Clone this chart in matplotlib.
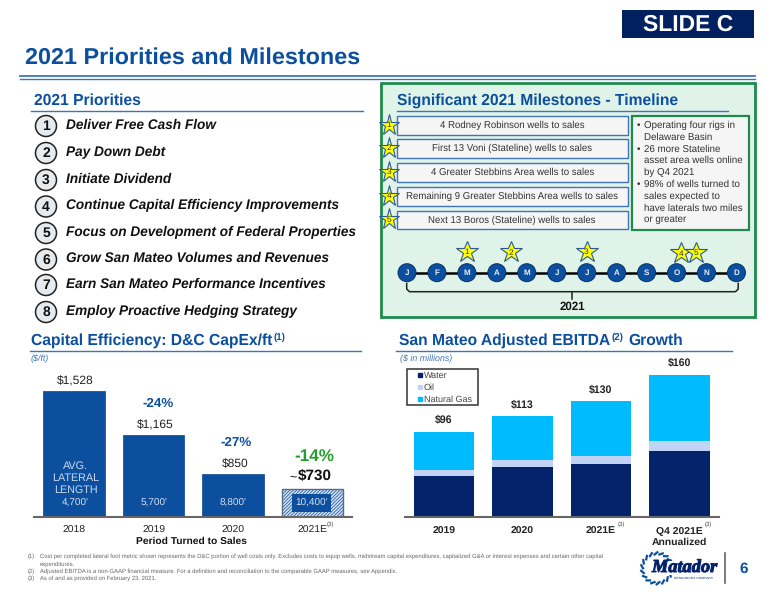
import numpy as np
import matplotlib
matplotlib.use("Agg")
import matplotlib.pyplot as plt
import matplotlib.patheffects as pe
from matplotlib.patches import Rectangle, Circle, Patch
from matplotlib.legend_handler import HandlerPatch
from matplotlib.lines import Line2D

plt.rcParams['font.family'] = ['Liberation Sans', 'DejaVu Sans']
plt.rcParams['text.hinting'] = 'no_hinting'

# ---- data ----
capex_years = ['2018', '2019', '2020', '2021E']
capex_values = [1528, 1165, 850, 730]
capex_labels = ['$1,528', '$1,165', '$850']
capex_lengths = ["4,700'", "5,700'", "8,800'", "10,400'"]
capex_changes = ['-24%', '-27%', '-14%']

ebitda_years = ['2019', '2020', '2021E', 'Q4 2021E\nAnnualized']
ebitda_water = [46.5, 56, 60, 74]
ebitda_oil = [6.5, 8, 9, 11.5]
ebitda_gas = [43, 49, 61, 74.5]
ebitda_labels = ['$96', '$113', '$130', '$160']

priorities = ['Deliver Free Cash Flow', 'Pay Down Debt', 'Initiate Dividend',
              'Continue Capital Efficiency Improvements',
              'Focus on Development of Federal Properties',
              'Grow San Mateo Volumes and Revenues',
              'Earn San Mateo Performance Incentives',
              'Employ Proactive Hedging Strategy']
priority_y = [126, 153, 180, 206.5, 233, 259.5, 285, 312]
milestones = ['4 Rodney Robinson wells to sales',
              'First 13 Voni (Stateline) wells to sales',
              '4 Greater Stebbins Area wells to sales',
              'Remaining 9 Greater Stebbins Area wells to sales',
              'Next 13 Boros (Stateline) wells to sales']
milestone_top = [115.7, 139, 163, 186.7, 210.5]
months = list('JFMAMJJASOND')
timeline_stars = [(467, 251.7), (511, 252), (586.5, 251.7), (681, 253), (696, 252.5)]
side_notes = [('•', 'Operating four rigs in'), ('', 'Delaware Basin'),
              ('•', '26 more Stateline'), ('', 'asset area wells online'), ('', 'by Q4 2021'),
              ('•', '98% of wells turned to'), ('', 'sales expected to'),
              ('', 'have laterals two miles'), ('', 'or greater')]
footnotes = [('(1)', 'Cost per completed lateral foot metric shown represents the D&C portion of well costs only. Excludes costs to equip wells, midstream capital expenditures, capitalized G&A or interest expenses and certain other capital'),
             ('', 'expenditures.'),
             ('(2)', 'Adjusted EBITDA is a non-GAAP financial measure. For a definition and reconciliation to the comparable GAAP measures, see Appendix.'),
             ('(3)', 'As of and as provided on February 23, 2021.')]

BLUE = '#0b4f9e'
RULE = '#3f75b5'
NAVY = '#04236a'
GREEN = '#1f8a4c'
OIL = '#c2d4f5'
GAS = '#00bcff'
W, H = 776, 600

fig = plt.figure(figsize=(W / 100, H / 100), dpi=100, facecolor='white')


def px_axes(x0, y0, x1, y1, **kw):
    return fig.add_axes([x0 / W, 1 - y1 / H, (x1 - x0) / W, (y1 - y0) / H], **kw)


# ---- capex chart ----
ax1 = px_axes(34.3, 375, 352.3, 517, zorder=1)
x = np.arange(4)
ax1.bar(x[:3], capex_values[:3], width=0.775, color=BLUE, edgecolor='#0a468c', linewidth=0.5)
plt.rcParams['hatch.linewidth'] = 0.7
ax1.bar(x[3], capex_values[3], width=0.775, facecolor='#dfe8f4', edgecolor='#2f6db4', hatch='//////////', linewidth=0)
ax1.bar(x[3], capex_values[3], width=0.775, fill=False, edgecolor='#5a6a80', linewidth=1)
ax1.set_xlim(-0.5, 3.5)
ax1.set_ylim(500, 500 + 142 / 0.1226)
ax1.set_xticks(x, capex_years, fontsize=7.5, color='#222222')
ax1.tick_params(axis='x', length=0, pad=6)
ax1.set_yticks([])
for s in ['top', 'left', 'right']:
    ax1.spines[s].set_visible(False)
ax1.spines['bottom'].set_color('#666666')
ax1.spines['bottom'].set_linewidth(1.5)
ax1.patch.set_alpha(0)

# ---- EBITDA chart ----
ax2 = px_axes(404.7, 365, 718.7, 517, zorder=1)
xe = np.arange(4)
water = np.array(ebitda_water)
oil = np.array(ebitda_oil)
gas = np.array(ebitda_gas)
ax2.bar(xe, water, width=0.77, color=NAVY)
ax2.bar(xe, oil, width=0.77, bottom=water, color=OIL)
ax2.bar(xe, gas, width=0.77, bottom=water + oil, color=GAS)
ax2.set_xlim(-0.5, 3.5)
ax2.set_ylim(0, 152 / 0.89)
ax2.set_xticks(xe, ebitda_years, fontsize=7.5, fontweight='bold', color='#222222', linespacing=1.3)
ax2.tick_params(axis='x', length=0, pad=6.8)
ax2.set_yticks([])
for s in ['top', 'left', 'right']:
    ax2.spines[s].set_visible(False)
ax2.spines['bottom'].set_color('#666666')
ax2.spines['bottom'].set_linewidth(1.5)
ax2.patch.set_alpha(0)


def small_square(legend, orig_handle, xdescent, ydescent, width, height, fontsize):
    return Rectangle((width - 2.9 - xdescent, (height - 2.9) / 2 - ydescent), 2.9, 2.9)


ax2.add_patch(Rectangle((407 / W, 1 - 405 / H), 71 / W, 35.7 / H, transform=fig.transFigure, clip_on=False,
                        facecolor='white', edgecolor='#333333', linewidth=1.1, zorder=4))
leg = ax2.legend(handles=[Patch(color=NAVY, label='Water'), Patch(color=OIL, label='Oil'),
                          Patch(color=GAS, label='Natural Gas')],
                 handler_map={Patch: HandlerPatch(patch_func=small_square)},
                 loc='upper left', bbox_to_anchor=(409 / W, 1 - 371.3 / H), bbox_transform=fig.transFigure,
                 fontsize=6.5, frameon=False, handlelength=1.44, handleheight=0.6, handletextpad=0.2,
                 labelspacing=0.42, borderpad=0, borderaxespad=0, labelcolor='#444444')
leg.set_zorder(5)

# ---- overlay in pixel coordinates ----
ov = fig.add_axes([0, 0, 1, 1], zorder=3)
ov.set_xlim(0, W)
ov.set_ylim(H, 0)
ov.axis('off')
ov.patch.set_alpha(0)


def T(x, y, s, size=8, color='#111111', ha='center', va='center', **kw):
    return ov.text(x, y, s, fontsize=size, color=color, ha=ha, va=va, **kw)


def R(x0, y0, x1, y1, fc, ec='none', lw=0, z=2):
    ov.add_patch(Rectangle((x0, y0), x1 - x0, y1 - y0, facecolor=fc, edgecolor=ec, linewidth=lw, zorder=z))


def L(xs, ys, color, lw, z=2, **kw):
    ov.add_line(Line2D(xs, ys, color=color, linewidth=lw, zorder=z, **kw))


def star(x, y, label, size=15.5):
    ov.plot([x], [y], marker='*', markersize=size, markerfacecolor='#ffff00', markeredgecolor='#2b5a9a',
            markeredgewidth=0.8, zorder=6, clip_on=False)
    T(x, y + 0.5, label, size=6, color='#333333', zorder=7)


# header
R(622.3, 10.3, 754.3, 38.3, '#002060')
T(688.3, 24.5, 'SLIDE C', size=16.5, color='white', fontweight='bold', zorder=3)
T(25, 58, '2021 Priorities and Milestones', size=16.86, color=BLUE, ha='left', fontweight='bold')
L([20, 755], [76, 76], RULE, 1.3)
L([20, 755], [79.3, 79.3], RULE, 1.0)

# priorities
T(34.5, 100.5, '2021 Priorities', size=11.27, color=BLUE, ha='left', fontweight='bold')
L([31, 363], [111, 111], RULE, 1.0)
for i, (txt, yy) in enumerate(zip(priorities, priority_y)):
    ov.add_patch(Circle((46, yy), 10.5, facecolor='#e6ebf0', edgecolor='#222222', linewidth=1.1, zorder=2))
    T(46, yy + 0.5, str(i + 1), size=10, fontweight='bold', zorder=3)
    T(66.5, yy - 0.8, txt, size=9.83, ha='left', fontweight='bold', fontstyle='italic')

# milestones panel
R(381, 83, 755, 316.5, '#e0f3e8', GREEN, 2.0, z=1)
T(397, 100.5, 'Significant 2021 Milestones - Timeline', size=11.27, color=BLUE, ha='left', fontweight='bold')
L([397, 728], [111, 111], RULE, 1.0)
for i, (txt, top) in enumerate(zip(milestones, milestone_top)):
    R(396.7, top, 627.7, top + 18.8, '#f5f5f6', RULE, 1.0)
    T(512.2, top + 9.8, txt, size=6.94, color='#333333', zorder=3)
    star(389, top + 8.8, str(i + 1))
R(631.5, 115.5, 749, 230, '#f5f5f6', GREEN, 1.6)
for i, (b, txt) in enumerate(side_notes):
    yy = 125.3 + i * 11.8
    if b:
        T(638, yy, b, size=7, color='#333333', ha='center', zorder=3)
    T(644, yy, txt, size=7, color='#333333', ha='left', zorder=3)

# timeline
mx = 407 + np.arange(12) * 29.95
L([mx[0], mx[-1]], [272.7, 272.7], 'black', 1.8, z=2)
for xx, m in zip(mx, months):
    ov.add_patch(Circle((xx, 272.7), 9, facecolor=BLUE, edgecolor='#06336b', linewidth=0.7, zorder=3))
    T(xx, 273, m, size=5.8, color='#e8eef8', fontweight='bold', zorder=4)
for i, (sx, sy) in enumerate(timeline_stars):
    star(sx, sy, str(i + 1), size=16.5)
L([406.7, 406.7, 409.5, 735.5, 738.2, 738.2], [283.5, 289, 291.7, 291.7, 289, 283.5], '#222222', 1.1)
L([572, 572], [291.7, 299], '#222222', 1.1)
T(572, 307, '2021', size=8.3, fontweight='bold')

# capex headings
T(30.7, 341, 'Capital Efficiency: D&C CapEx/ft', size=11.24, color=BLUE, ha='left', fontweight='bold')
T(273.5, 337.5, '(1)', size=7, color=BLUE, ha='left', fontweight='bold')
L([30, 361], [350.7, 350.7], RULE, 1.0)
T(31, 359, '($/ft)', size=6.4, color=RULE, ha='left', fontstyle='italic')
# capex labels
T(75.7, 381, capex_labels[0], size=8.65, color='#222222')
T(155, 425, capex_labels[1], size=8.65, color='#222222')
T(235, 463.7, capex_labels[2], size=8.65, color='#222222')
T(158, 404, capex_changes[0], size=9.66, color=BLUE, fontweight='bold')
T(236.5, 443, capex_changes[1], size=9.66, color=BLUE, fontweight='bold')
T(314.7, 456, capex_changes[2], size=12.3, color='#22a02a', fontweight='bold')
T(297, 477, '~', size=9, color='#111111', ha='right')
T(298, 476, '$730', size=11.03, ha='left', fontweight='bold')
for yy, s in zip([465.7, 477.7, 490.3], ['AVG.', 'LATERAL', 'LENGTH']):
    T(75.5, yy, s, size=7.75, color='#c9d8ee')
R(292, 494.3, 331, 511.7, BLUE)
for xx, s in zip([75.5, 153.7, 233.5, 311.5], capex_lengths):
    T(xx, 502.8, s, size=7.2, color='#d5e0f0', zorder=3)
T(327, 524, '(3)', size=4.3, color='#444444', ha='left')
T(191.7, 541, 'Period Turned to Sales', size=7.4, fontweight='bold')

# EBITDA headings
T(399, 341, 'San Mateo Adjusted EBITDA', size=11.29, color=BLUE, ha='left', fontweight='bold')
T(612, 337.5, '(2)', size=7, color=BLUE, ha='left', fontweight='bold')
T(628.7, 341, 'Growth', size=11.29, color=BLUE, ha='left', fontweight='bold')
L([396, 732], [350.7, 350.7], RULE, 1.0)
T(400, 358.5, '($ in millions)', size=6.4, color=RULE, ha='left', fontstyle='italic')
for xx, yy, s in zip([443.7, 522, 601, 679.7], [419.7, 404.7, 389, 362], ebitda_labels):
    T(xx, yy, s, size=7.6, fontweight='bold', color='#222222')
T(618, 524, '(3)', size=4.3, color='#444444', ha='left')
T(704.5, 524, '(3)', size=4.3, color='#444444', ha='left')

# footnotes
for yy, (n, s) in zip([556.3, 564, 571, 578], footnotes):
    if n:
        T(28, yy, n, size=4.23, color='#666666', ha='left')
    T(40, yy, s, size=4.23, color='#666666', ha='left')

# logo
cx, cy, rad = 657, 568.3, 14
for a in np.arange(0, 360, 20):
    t0, t1 = np.radians(a), np.radians(a + 11)
    L([cx + rad * np.cos(t0), cx + (rad + 2) * np.cos(t1)],
      [cy + rad * np.sin(t0), cy + (rad + 2) * np.sin(t1)], BLUE, 1.6, z=3)
R(650, 561, 720, 575, 'white', z=3)
T(652, 572, 'Matador', size=13.2, color=NAVY, ha='left', va='baseline', fontweight='bold', fontstyle='italic',
  family='Liberation Serif', zorder=4, path_effects=[pe.withStroke(linewidth=0.7, foreground=NAVY)])
T(694, 576.5, 'RESOURCES COMPANY', size=2.4, color=NAVY, va='top', zorder=4)
L([725.3, 725.3], [553, 583], '#666666', 1.2)
T(744, 569, '6', size=11, color=BLUE, fontweight='bold')

fig.savefig('out.png', dpi=100, facecolor='white')
